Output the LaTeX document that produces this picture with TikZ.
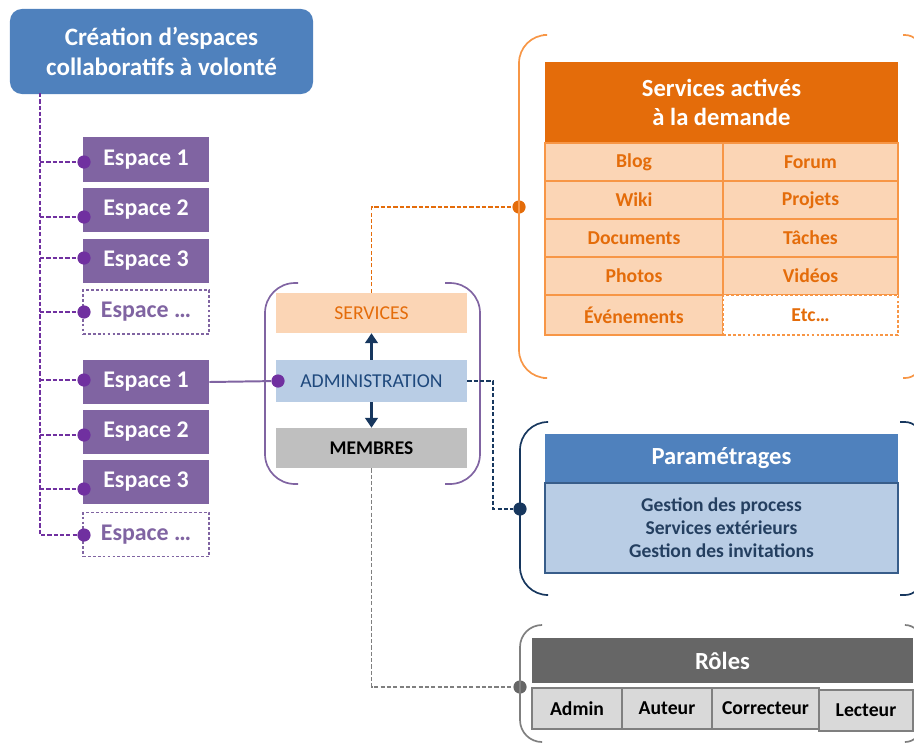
\documentclass[tikz,border=0pt]{standalone}
\usepackage{fontspec}
\setmainfont{Carlito}
\usetikzlibrary{arrows.meta, positioning, calc}

\definecolor{titleblue}{HTML}{4F81BD}
\definecolor{espviolet}{HTML}{8064A2}
\definecolor{dotviolet}{HTML}{7030A0}
\definecolor{svcorange}{HTML}{E46C0A}
\definecolor{svclight}{HTML}{FBD5B5}
\definecolor{svcline}{HTML}{F79646}
\definecolor{admlight}{HTML}{B9CDE5}
\definecolor{admtext}{HTML}{1F497D}
\definecolor{navy}{HTML}{17375E}
\definecolor{prmline}{HTML}{385D8A}
\definecolor{prmtext}{HTML}{243F60}
\definecolor{membgray}{HTML}{BFBFBF}
\definecolor{roledark}{HTML}{666666}
\definecolor{rolelight}{HTML}{D9D9D9}
\definecolor{roleline}{HTML}{7F7F7F}

\begin{document}
\begin{tikzpicture}[x=0.025cm, y=-0.025cm,
    esp/.style={rectangle, fill=espviolet, text=white, minimum width=3.15cm, minimum height=1.1cm, font=\fontsize{17}{20}\selectfont\bfseries},
    espmore/.style={esp, fill=white, draw=espviolet, dash pattern=on 2pt off 1.5pt, line width=0.9pt, text=espviolet},
    joint/.style={circle, fill=#1, inner sep=0pt, minimum size=0.33cm},
    link/.style={dash pattern=on 3pt off 1.5pt, line width=1.3pt},
    bracket/.style={rounded corners=0.75cm, line width=1.2pt},
    mid/.style={rectangle, minimum width=4.775cm, minimum height=1.0cm, font=\fontsize{14}{16}\selectfont},
    tip/.style={-{Triangle[length=7pt,width=9pt]}, line width=1.6pt, navy},
    head/.style={rectangle, text=white, minimum width=8.825cm, align=center, font=\fontsize{17.5}{21}\selectfont\bfseries},
    cell/.style={rectangle, fill=svclight, draw=svcline, line width=0.9pt, text=svcorange, minimum height=0.95cm, font=\fontsize{14}{16}\selectfont\bfseries},
    role/.style={rectangle, fill=rolelight, draw=roleline, line width=0.9pt, text=black, minimum height=1.025cm, font=\fontsize{14}{16}\selectfont\bfseries}]
    \clip (0,0) rectangle (914,744);

    % espaces
    \node[rectangle, rounded corners=0.3cm, fill=titleblue, text=white, minimum width=7.575cm, minimum height=2.125cm, align=center, font=\fontsize{17.8}{21.5}\selectfont\bfseries] (T) at (161.5,51.5) {Création d’espaces\\collaboratifs à volonté};
    \node[esp] (E1) at (146,159.5) {Espace 1};
    \node[esp] (E2) at (146,210) {Espace 2};
    \node[esp] (E3) at (146,260.5) {Espace 3};
    \node[espmore] (E4) at (146,312) {Espace …};
    \node[esp] (E5) at (146,382) {Espace 1};
    \node[esp] (E6) at (146,432) {Espace 2};
    \node[esp] (E7) at (146,482) {Espace 3};
    \node[espmore] (E8) at (146,534.5) {Espace …};
    \node[joint=dotviolet] (D1) at (84,162) {};
    \node[joint=dotviolet] (D2) at (84,217) {};
    \node[joint=dotviolet] (D3) at (84,258) {};
    \node[joint=dotviolet] (D4) at (84,312) {};
    \node[joint=dotviolet] (D5) at (84,380) {};
    \node[joint=dotviolet] (D6) at (84,435) {};
    \node[joint=dotviolet] (D7) at (84,489) {};
    \node[joint=dotviolet] (D8) at (84,535) {};
    \coordinate (K0) at (40,93);
    \coordinate (K8) at (40,535);
    \draw[link, dotviolet] (K0) -- (K8) -- (D8);
    \path[link, dotviolet] (K0 |- D1) edge (D1);
    \path[link, dotviolet] (K0 |- D2) edge (D2);
    \path[link, dotviolet] (K0 |- D3) edge (D3);
    \path[link, dotviolet] (K0 |- D4) edge (D4);
    \path[link, dotviolet] (K0 |- D5) edge (D5);
    \path[link, dotviolet] (K0 |- D6) edge (D6);
    \path[link, dotviolet] (K0 |- D7) edge (D7);

    % espace central
    \node[mid, fill=svclight, text=svcorange] (S) at (371.5,313) {SERVICES};
    \node[mid, fill=admlight, text=admtext, minimum height=1.05cm] (A) at (371.5,381) {ADMINISTRATION};
    \node[mid, fill=membgray, text=black, font=\fontsize{13.8}{16}\selectfont\bfseries] (M) at (371.5,448) {MEMBRES};
    \node[joint=dotviolet] (DA) at (278,381) {};
    \draw[line width=1.4pt, espviolet] (E5.east) -- (DA);
    \draw[tip] (A.north) -- (S.south);
    \draw[tip] (A.south) -- (M.north);
    \draw[bracket, espviolet] (298,283) -- (265,283) -- (265,484) -- (298,484);
    \draw[bracket, espviolet] (445,283) -- (480,283) -- (480,484) -- (445,484);

    % services
    \node[joint=svcorange] (DS) at (519,207) {};
    \draw[link, svcorange] (S.north) |- (DS);
    \draw[bracket, svcline, rounded corners=0.7cm] (543,35) -- (519,35) -- (519,378) -- (543,378);
    \draw[bracket, svcline, rounded corners=0.4cm] (903,35) -- (921,35) -- (921,378) -- (903,378);
    \node[head, fill=svcorange, minimum height=2.025cm] (SH) at (721.5,102.5) {Services activés\\à la demande};
    \node[cell, minimum width=4.45cm] (blog) at (634,162) {Blog};
    \node[cell, minimum width=4.375cm] (forum) at (810.5,162) {Forum};
    \node[cell, minimum width=4.45cm] (wiki) at (634,200) {Wiki};
    \node[cell, minimum width=4.375cm] (projets) at (810.5,200) {Projets};
    \node[cell, minimum width=4.45cm] (docs) at (634,238) {Documents};
    \node[cell, minimum width=4.375cm] (taches) at (810.5,238) {Tâches};
    \node[cell, minimum width=4.45cm] (photos) at (634,276) {Photos};
    \node[cell, minimum width=4.375cm] (videos) at (810.5,276) {Vidéos};
    \node[cell, minimum width=4.45cm, minimum height=1.0cm] (events) at (634,315) {Événements};
    \node[cell, minimum width=4.375cm, minimum height=1.0cm, fill=white, dash pattern=on 2pt off 1.5pt] (etc) at (810.5,315) {Etc…};

    % parametrages
    \node[joint=navy] (DP) at (520,509) {};
    \coordinate (KP) at (493,381);
    \draw[link, navy] (A.east) -- (KP) |- (DP);
    \draw[bracket, navy, rounded corners=0.7cm] (548,422) -- (520,422) -- (520,595) -- (548,595);
    \draw[bracket, navy, rounded corners=0.4cm] (900,422) -- (921,422) -- (921,595) -- (900,595);
    \node[head, fill=titleblue, minimum height=1.225cm] (PH) at (721.5,458.5) {Paramétrages};
    \node[rectangle, fill=admlight, draw=prmline, line width=0.9pt, text=prmtext, minimum width=8.825cm, minimum height=2.25cm, align=center, font=\fontsize{13.9}{16.4}\selectfont\bfseries] (PB) at (721.5,528) {Gestion des process\\Services extérieurs\\Gestion des invitations};

    % roles
    \node[joint=roledark] (DR) at (520,687) {};
    \draw[link, roleline] (M.south) |- (DR);
    \draw[bracket, roleline, rounded corners=0.55cm] (542,625) -- (520,625) -- (520,742) -- (542,742);
    \draw[bracket, roleline, rounded corners=0.4cm] (905,625) -- (921,625) -- (921,742) -- (905,742);
    \node[head, fill=roledark, minimum width=9.525cm, minimum height=1.125cm] (RH) at (722.5,660.5) {Rôles};
    \node[role, minimum width=2.25cm] (admin) at (577,708.5) {Admin};
    \node[role, minimum width=2.25cm] (auteur) at (667,708.5) {Auteur};
    \node[role, minimum width=2.675cm] (correcteur) at (765.5,708.5) {Correcteur};
    \node[role, minimum width=2.35cm] (lecteur) at (866,710.5) {Lecteur};
\end{tikzpicture}
\end{document}
